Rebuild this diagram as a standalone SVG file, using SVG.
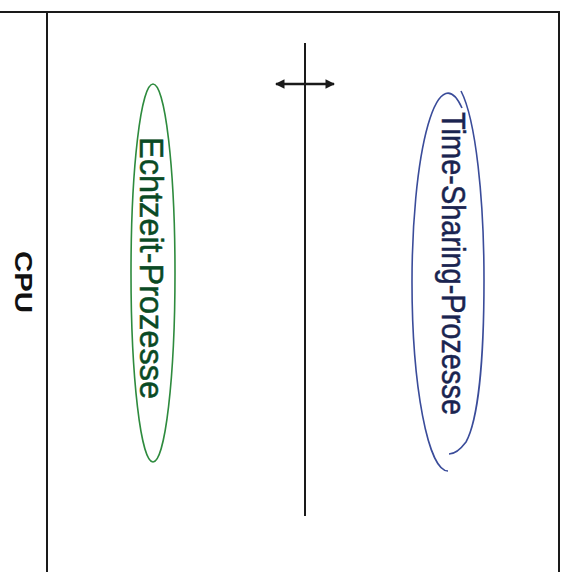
<svg xmlns="http://www.w3.org/2000/svg" width="568" height="572" viewBox="0 0 568 572">
<style>
.frame{stroke:#1a1a1a;stroke-width:2;fill:none}
.lbl{font-family:"Liberation Sans",Arial,sans-serif;font-size:33px;stroke-width:0.5}
</style>
<defs>
<marker id="ah" viewBox="0 0 10 10" refX="9" refY="5" markerWidth="4" markerHeight="3.5" orient="auto-start-reverse" markerUnits="strokeWidth">
<path d="M0,0 L10,5 L0,10 Z" fill="#1a1a1a"/>
</marker>
</defs>
<rect width="568" height="572" fill="#fff"/>
<g id="frame">
<path class="frame" d="M0,12 H559 V572"/>
<line class="frame" x1="47" y1="12" x2="47" y2="572"/>
</g>
<g id="cpu">
<text transform="translate(15,251) rotate(90)" font-family="Liberation Sans,Arial,sans-serif" font-size="24" font-weight="bold" fill="#111" textLength="62" lengthAdjust="spacingAndGlyphs">CPU</text>
</g>
<g id="connectors">
<line x1="305" y1="43" x2="305" y2="516" stroke="#1a1a1a" stroke-width="2"/>
<line x1="276" y1="84" x2="334" y2="84" stroke="#1a1a1a" stroke-width="2.7" marker-start="url(#ah)" marker-end="url(#ah)"/>
</g>
<g id="echtzeit">
<ellipse cx="153" cy="273" rx="22" ry="189" fill="none" stroke="#2e8b3e" stroke-width="1.6"/>
<text class="lbl" transform="translate(140,137) rotate(90)" fill="#0a4a24" stroke="#0a4a24" textLength="262" lengthAdjust="spacingAndGlyphs">Echtzeit-Prozesse</text>
</g>
<g id="timesharing">
<path d="M462,108 A36,189 0 0 0 412,282 A36,189 0 0 0 448,471" fill="none" stroke="#3a4c9a" stroke-width="1.6"/>
<path d="M461,91 C476,120 484,200 484,280 C484,360 478,420 466,442 C460,450 454,454 449,454" fill="none" stroke="#3a4c9a" stroke-width="1.6"/>
<text class="lbl" transform="translate(442,112) rotate(90)" fill="#1a2450" stroke="#1a2450" textLength="303" lengthAdjust="spacingAndGlyphs">Time-Sharing-Prozesse</text>
</g>
</svg>
